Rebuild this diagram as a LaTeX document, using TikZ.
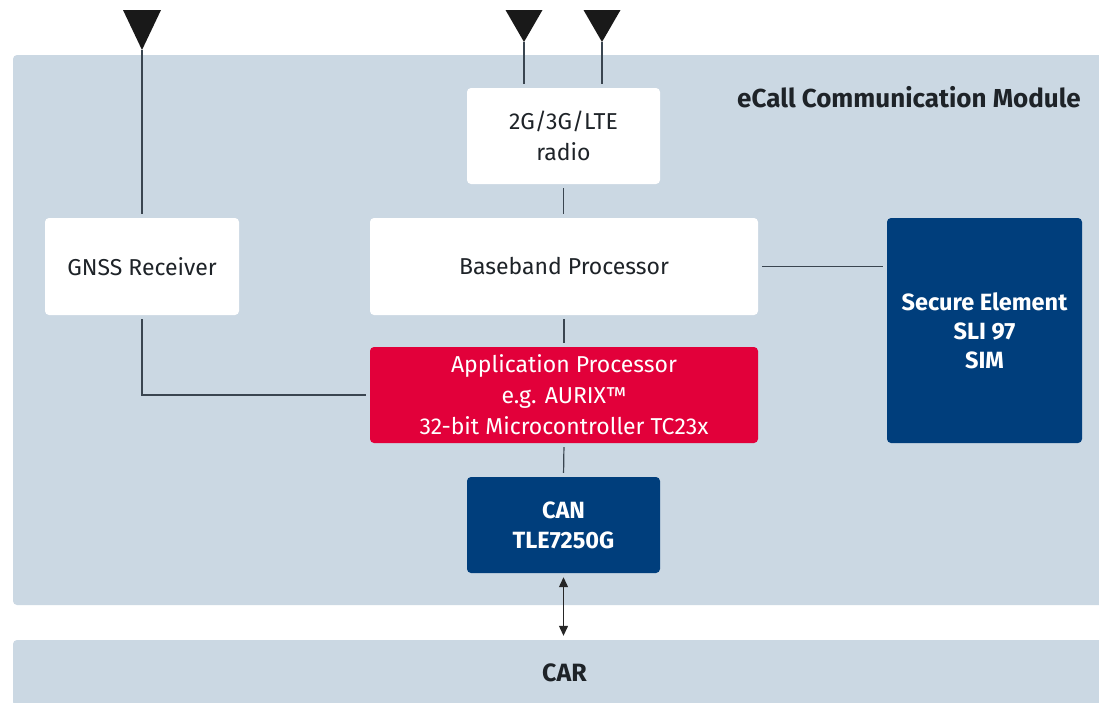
\documentclass[tikz,border=0pt]{standalone}
\usepackage{fontspec}
\setmainfont{Fira Sans}
\usetikzlibrary{arrows.meta}
\definecolor{bgblue}{HTML}{CBD8E3}
\definecolor{darkblue}{HTML}{003E7C}
\definecolor{ifxred}{HTML}{E2003A}
\definecolor{linecol}{HTML}{3A4550}
\definecolor{txt}{HTML}{1E2328}
\tikzset{
  panel/.style={fill=bgblue, draw=none, rounded corners=4pt, inner sep=0pt},
  whitebox/.style={fill=white, draw=none, rounded corners=4pt, align=center, text=txt, font=\fontsize{23}{31}\selectfont, inner sep=0pt},
  bluebox/.style={fill=darkblue, draw=none, rounded corners=4pt, align=center, text=white, font=\bfseries\fontsize{23.5}{30}\selectfont, inner sep=0pt},
  redbox/.style={fill=ifxred, draw=none, rounded corners=4pt, align=center, text=white, font=\fontsize{23}{31}\selectfont, inner sep=0pt},
  conn/.style={draw=linecol, line width=1.2pt, shorten <=4pt, shorten >=4pt},
  antenna/.style={fill=black!90},
}
\begin{document}
\begin{tikzpicture}[x=1pt,y=-1pt]
\useasboundingbox (0,0) rectangle (1099,702);
% panels
\node[panel, minimum width=1103pt, minimum height=550pt] (module) at (564.5,330) {};
\node[panel, minimum width=1103pt, minimum height=66pt, text=txt, font=\bfseries\fontsize{25}{30}\selectfont] (car) at (564.5,673) {CAR};
\node[anchor=east, text=txt, font=\bfseries\fontsize{26}{30}\selectfont, inner sep=0pt] (title) at (1081,97) {eCall Communication Module};
% boxes
\node[whitebox, minimum width=194pt, minimum height=97pt] (gnss) at (142,266.5) {GNSS Receiver};
\node[whitebox, minimum width=193pt, minimum height=96pt] (radio) at (563.5,136) {2G/3G/LTE\\radio};
\node[whitebox, minimum width=388pt, minimum height=97pt] (bb) at (564,266.5) {Baseband Processor};
\node[redbox, minimum width=388pt, minimum height=96pt] (app) at (564,395) {Application Processor\\e.g. AURIX™\\32-bit Microcontroller TC23x};
\node[bluebox, minimum width=193pt, minimum height=96pt] (can) at (563.5,525) {CAN\\TLE7250G};
\node[bluebox, minimum width=195pt, minimum height=225pt, font=\bfseries\fontsize{23.5}{29}\selectfont] (se) at (984.5,330.5) {Secure Element\\SLI 97\\SIM};
% antennas
\coordinate (a1) at (142,50);
\coordinate (a2) at (524,42);
\coordinate (a3) at (602,42);
\fill[antenna] (123,10) -- (161,10) -- (a1) -- cycle;
\fill[antenna] (505.5,10) -- (542.5,10) -- (a2) -- cycle;
\fill[antenna] (583.5,10) -- (620.5,10) -- (a3) -- cycle;
% connectors
\draw[conn, shorten <=0pt] (a1) -- (gnss.north);
\draw[conn, shorten <=0pt] (a2) -- (a2 |- radio.north);
\draw[conn, shorten <=0pt] (a3) -- (a3 |- radio.north);
\draw[conn] (radio.south) -- (radio.south |- bb.north);
\draw[conn] (bb.east) -- (bb.east -| se.west);
\draw[conn] (bb.south) -- (app.north);
\draw[conn] (gnss.south) |- (app.west);
\draw[conn] (app.south) -- (can.north);
\draw[conn, {Triangle[length=10pt,width=9pt]}-{Triangle[length=10pt,width=9pt]}, draw=black!85, fill=black!85] (can.south) -- (can.south |- car.north);
\end{tikzpicture}
\end{document}
